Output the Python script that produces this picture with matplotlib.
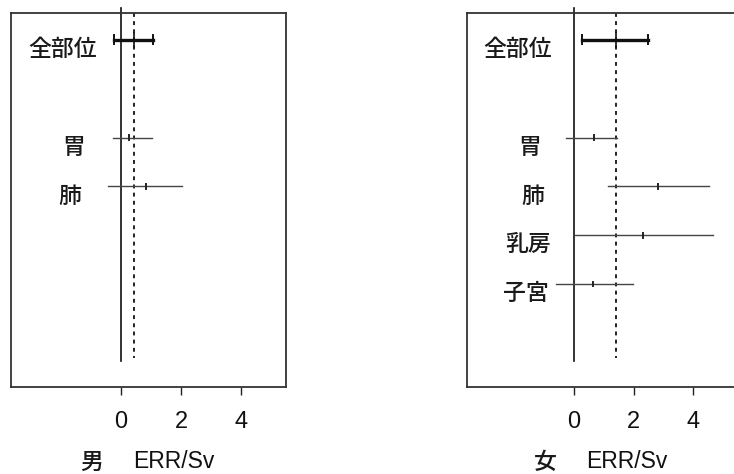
import matplotlib.pyplot as plt

plt.rcParams['font.family'] = ['Noto Sans CJK JP', 'DejaVu Sans']

# 部位別 ERR/Sv（点推定と信頼区間）
male_sites = ['全部位', '胃', '肺']
male_rows = [0, 2, 3]
male_est = [0.43, 0.25, 0.83]
male_lo = [-0.23, -0.27, -0.43]
male_hi = [1.07, 1.03, 2.03]

female_sites = ['全部位', '胃', '肺', '乳房', '子宮']
female_rows = [0, 2, 3, 4, 5]
female_est = [1.41, 0.67, 2.82, 2.32, 0.64]
female_lo = [0.27, -0.27, 1.14, 0.0, -0.60]
female_hi = [2.49, 1.45, 4.54, 4.67, 1.98]

male_ref = 0.43
female_ref = 1.41
xticks = [0, 2, 4]

W, H = 734, 474
fig = plt.figure(figsize=(W / 100, H / 100), dpi=100)


def panel(left_px, xlim, sites, rows, est, lo, hi, ref, label_x, sex):
    ax = fig.add_axes([left_px / W, 1 - 387 / H, 275 / W, 374 / H])
    ax.set_xlim(*xlim)
    ax.set_ylim(7.11, -0.55)

    # 縦線: ゼロ線と全部位の推定値（点線）
    ax.plot([0, 0], [-0.65, 6.58], color='#111111', lw=1.2, clip_on=False)
    ax.plot([ref, ref], [-0.55, 6.52], color='#222222', lw=1.4,
            linestyle=(0, (2, 2.2)))

    for i, (r, e, a, b) in enumerate(zip(rows, est, lo, hi)):
        if i == 0:
            ax.plot([a, b], [r, r], color='#111111', lw=2.4)
            ax.plot([a, a], [r - 0.09, r + 0.09], color='#111111', lw=1.4)
            ax.plot([b, b], [r - 0.09, r + 0.09], color='#111111', lw=1.4)
            ax.plot([e, e], [r - 0.14, r + 0.14], color='#111111', lw=1.2)
        else:
            ax.plot([a, b], [r, r], color='#444444', lw=1.0)
            ax.plot([e, e], [r - 0.05, r + 0.05], color='#222222', lw=1.4)

    for s, r, lx in zip(sites, rows, label_x):
        ax.text(lx, r + 0.2, s, ha='right', va='center', fontsize=16.5,
                fontweight='medium', color='#1a1a1a')

    ax.set_xticks(xticks)
    ax.set_xticklabels([str(t) for t in xticks], family='Liberation Sans')
    ax.tick_params(axis='x', direction='out', length=6, width=1.0,
                   pad=11, labelsize=17, colors='#222222', labelcolor='#111111')
    ax.set_yticks([])
    for sp in ax.spines.values():
        sp.set_color('#333333')
        sp.set_linewidth(1.3)

    x0 = left_px + (0 - xlim[0]) / (xlim[1] - xlim[0]) * 275
    fig.text((x0 - 29) / W, 1 - 462 / H, sex, ha='center', va='center',
             fontsize=16.5, fontweight='medium', color='#1a1a1a')
    fig.text((x0 + 12) / W, 1 - 462 / H, 'ERR/Sv', ha='left', va='center',
             fontsize=16.5, family='Liberation Sans', color='#111111')
    return ax


panel(11, (-3.67, 5.5), male_sites, male_rows, male_est, male_lo, male_hi,
      male_ref, [-0.8, -1.2, -1.33], '男')
panel(467, (-3.6, 5.64), female_sites, female_rows, female_est, female_lo,
      female_hi, female_ref, [-0.74, -1.11, -1.0, -0.77, -0.87], '女')

fig.savefig('out.png', dpi=100)
